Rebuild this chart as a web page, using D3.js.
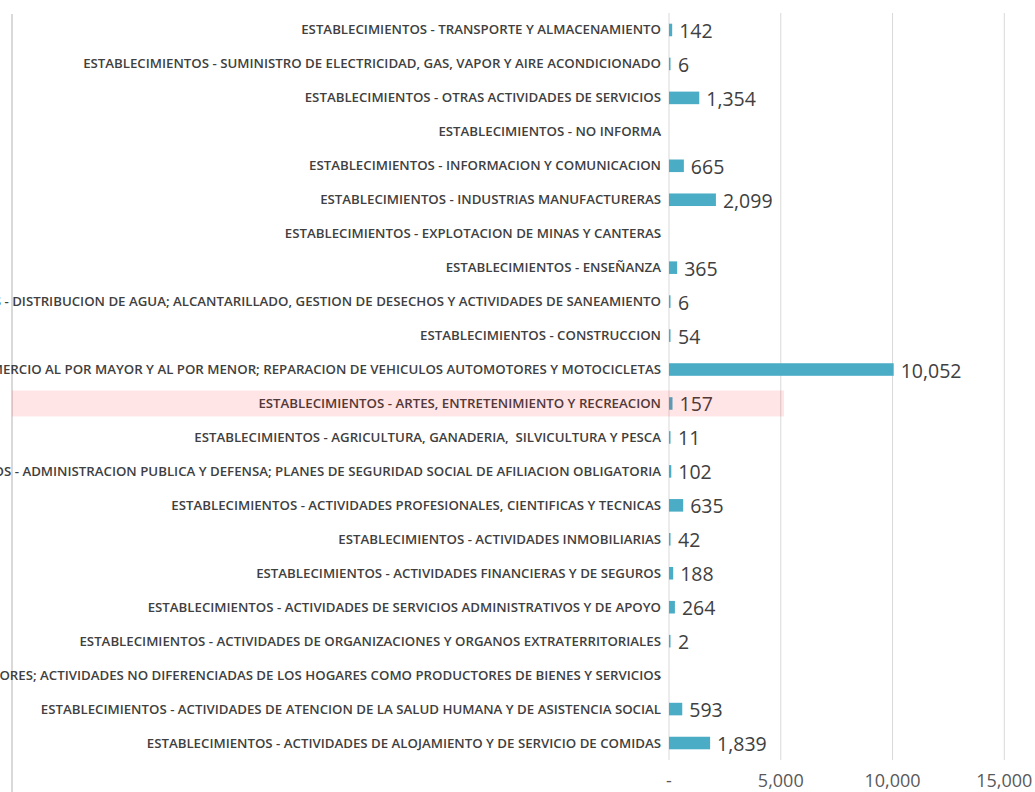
<!DOCTYPE html>
<html>
<head>
<meta charset="utf-8">
<script src="https://cdn.jsdelivr.net/npm/d3@7"></script>
<style>
  body { margin: 0; background: #fff; overflow: hidden; }
  svg { display: block; }
  .cat { white-space: pre; }
</style>
</head>
<body>
<svg id="chart" width="1035" height="792"></svg>
<script>
// categories, top to bottom as shown
const categories = [
  "ESTABLECIMIENTOS - TRANSPORTE Y ALMACENAMIENTO",
  "ESTABLECIMIENTOS - SUMINISTRO DE ELECTRICIDAD, GAS, VAPOR Y AIRE ACONDICIONADO",
  "ESTABLECIMIENTOS - OTRAS ACTIVIDADES DE SERVICIOS",
  "ESTABLECIMIENTOS - NO INFORMA",
  "ESTABLECIMIENTOS - INFORMACION Y COMUNICACION",
  "ESTABLECIMIENTOS - INDUSTRIAS MANUFACTURERAS",
  "ESTABLECIMIENTOS - EXPLOTACION DE MINAS Y CANTERAS",
  "ESTABLECIMIENTOS - ENSEÑANZA",
  "ESTABLECIMIENTOS - DISTRIBUCION DE AGUA; ALCANTARILLADO, GESTION DE DESECHOS Y ACTIVIDADES DE SANEAMIENTO",
  "ESTABLECIMIENTOS - CONSTRUCCION",
  "ESTABLECIMIENTOS - COMERCIO AL POR MAYOR Y AL POR MENOR; REPARACION DE VEHICULOS AUTOMOTORES Y MOTOCICLETAS",
  "ESTABLECIMIENTOS - ARTES, ENTRETENIMIENTO Y RECREACION",
  "ESTABLECIMIENTOS - AGRICULTURA, GANADERIA,  SILVICULTURA Y PESCA",
  "ESTABLECIMIENTOS - ADMINISTRACION PUBLICA Y DEFENSA; PLANES DE SEGURIDAD SOCIAL DE AFILIACION OBLIGATORIA",
  "ESTABLECIMIENTOS - ACTIVIDADES PROFESIONALES, CIENTIFICAS Y TECNICAS",
  "ESTABLECIMIENTOS - ACTIVIDADES INMOBILIARIAS",
  "ESTABLECIMIENTOS - ACTIVIDADES FINANCIERAS Y DE SEGUROS",
  "ESTABLECIMIENTOS - ACTIVIDADES DE SERVICIOS ADMINISTRATIVOS Y DE APOYO",
  "ESTABLECIMIENTOS - ACTIVIDADES DE ORGANIZACIONES Y ORGANOS EXTRATERRITORIALES",
  "ESTABLECIMIENTOS - ACTIVIDADES DE LOS HOGARES INDIVIDUALES EN CALIDAD DE EMPLEADORES; ACTIVIDADES NO DIFERENCIADAS DE LOS HOGARES COMO PRODUCTORES DE BIENES Y SERVICIOS",
  "ESTABLECIMIENTOS - ACTIVIDADES DE ATENCION DE LA SALUD HUMANA Y DE ASISTENCIA SOCIAL",
  "ESTABLECIMIENTOS - ACTIVIDADES DE ALOJAMIENTO Y DE SERVICIO DE COMIDAS"
];

const values = [142, 6, 1354, 0, 665, 2099, 0, 365, 6, 54, 10052, 157, 11, 102, 635, 42, 188, 264, 2, 0, 593, 1839];

const xTicks = [0, 5000, 10000, 15000];
const highlighted = "ESTABLECIMIENTOS - ARTES, ENTRETENIMIENTO Y RECREACION";

const data = categories.map((c, i) => ({ name: c, value: values[i] }));

const svg = d3.select("#chart");
const X0 = 669, X1 = 1004.3;

const x = d3.scaleLinear().domain([0, 15000]).range([X0, X1]);
const y = d3.scaleBand().domain(categories).range([13, 760]).paddingInner(0.63).paddingOuter(0.315);

const fmt = d3.format(",");

// left border of the plot area
svg.append("line")
  .attr("x1", 12).attr("x2", 12).attr("y1", 14).attr("y2", 792)
  .attr("stroke", "#d9d9d9").attr("stroke-width", 2);

// gridlines
svg.append("g").selectAll("line").data(xTicks).join("line")
  .attr("x1", d => x(d)).attr("x2", d => x(d))
  .attr("y1", 13).attr("y2", 760)
  .attr("stroke", "#d9d9d9").attr("stroke-width", 1);

// category labels, squeezed horizontally to a narrow face
const labelG = svg.append("g");
const labels = labelG.selectAll("text").data(data).join("text")
  .attr("class", "cat")
  .attr("x", 0)
  .attr("y", d => y(d.name) + y.bandwidth() / 2)
  .attr("dy", "0.36em")
  .attr("text-anchor", "end")
  .attr("font-family", "'Open Sans', sans-serif")
  .attr("font-size", 12.5)
  .attr("font-weight", 600)
  .attr("fill", "#404040")
  .text(d => d.name);

const refW = labels.filter((d, i) => i === 0).node().getComputedTextLength();
const k = 360 / refW;
labelG.attr("transform", `translate(661,0) scale(${k},1)`);

// zero values shown as a dash
svg.append("g").selectAll("text").data(data.filter(d => d.value === 0)).join("text")
  .attr("x", x(0) - 8)
  .attr("y", d => y(d.name) + y.bandwidth() / 2 + 2)
  .attr("dy", "0.36em")
  .attr("text-anchor", "end")
  .attr("font-family", "'Open Sans', sans-serif")
  .attr("font-size", 12)
  .attr("fill", "#404040")
  .text("-");

// bars
svg.append("g").selectAll("rect").data(data.filter(d => d.value > 0)).join("rect")
  .attr("x", x(0))
  .attr("y", d => y(d.name))
  .attr("width", d => Math.max(1.5, x(d.value) - x(0)))
  .attr("height", y.bandwidth())
  .attr("fill", "#4bacc6");

// value labels
svg.append("g").selectAll("text").data(data.filter(d => d.value > 0)).join("text")
  .attr("x", d => Math.max(x(d.value), x(0) + 2) + 7)
  .attr("y", d => y(d.name) + y.bandwidth() / 2 + 1)
  .attr("dy", "0.36em")
  .attr("font-family", "'Open Sans', sans-serif")
  .attr("font-size", 19.5)
  .attr("fill", "#404040")
  .text(d => fmt(d.value));

// highlight band over the selected row
const hy = y(highlighted) + y.bandwidth() / 2;
svg.append("rect")
  .attr("x", 12).attr("width", 772)
  .attr("y", hy - 13).attr("height", 26)
  .attr("fill", "rgb(255,0,0)").attr("opacity", 0.1);

// x axis labels
svg.append("g").selectAll("text").data(xTicks).join("text")
  .attr("x", d => x(d))
  .attr("y", 787)
  .attr("text-anchor", "middle")
  .attr("font-family", "'Open Sans', sans-serif")
  .attr("font-size", 18)
  .attr("fill", "#595959")
  .text(d => d === 0 ? "-" : fmt(d));
</script>
</body>
</html>
